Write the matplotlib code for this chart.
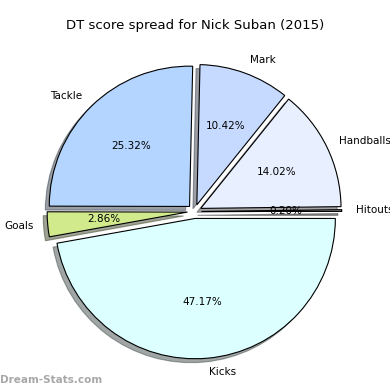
import matplotlib
matplotlib.use("Agg")
import matplotlib.pyplot as plt

# wedge order goes counter-clockwise from 0 degrees
labels = ["Hitouts", "Handballs", "Mark", "Tackle", "Goals", "Kicks"]
shares = [0.20, 14.02, 10.42, 25.32, 2.86, 47.17]
colours = ["#a0a0a0", "#e8f0ff", "#c6daff", "#b3d5ff", "#d0ea8c", "#dcffff"]
title = "DT score spread for Nick Suban (2015)"

fig = plt.figure(figsize=(3.9, 3.9), dpi=100)
ax = fig.add_axes([0.0, 0.0, 1.0, 0.94])

wedges, texts, autotexts = ax.pie(
    shares, labels=labels, colors=colours, explode=[0.05] * len(shares),
    autopct="%1.2f%%", shadow=True, startangle=0,
    wedgeprops={"edgecolor": "black", "linewidth": 0.8},
    textprops={"fontsize": 7.5})
ax.set_aspect("equal")
ax.set_xlim(-1.386, 1.394)
ax.set_ylim(-1.226, 1.294)

fig.text(0.5, 0.935, title, ha="center", va="center", fontsize=9.5)
fig.text(0.0, 0.025, "Dream-Stats.com", ha="left", va="center",
         fontsize=7.5, fontweight="bold", color="#a8a8a8")

fig.savefig("out.png", dpi=100)
